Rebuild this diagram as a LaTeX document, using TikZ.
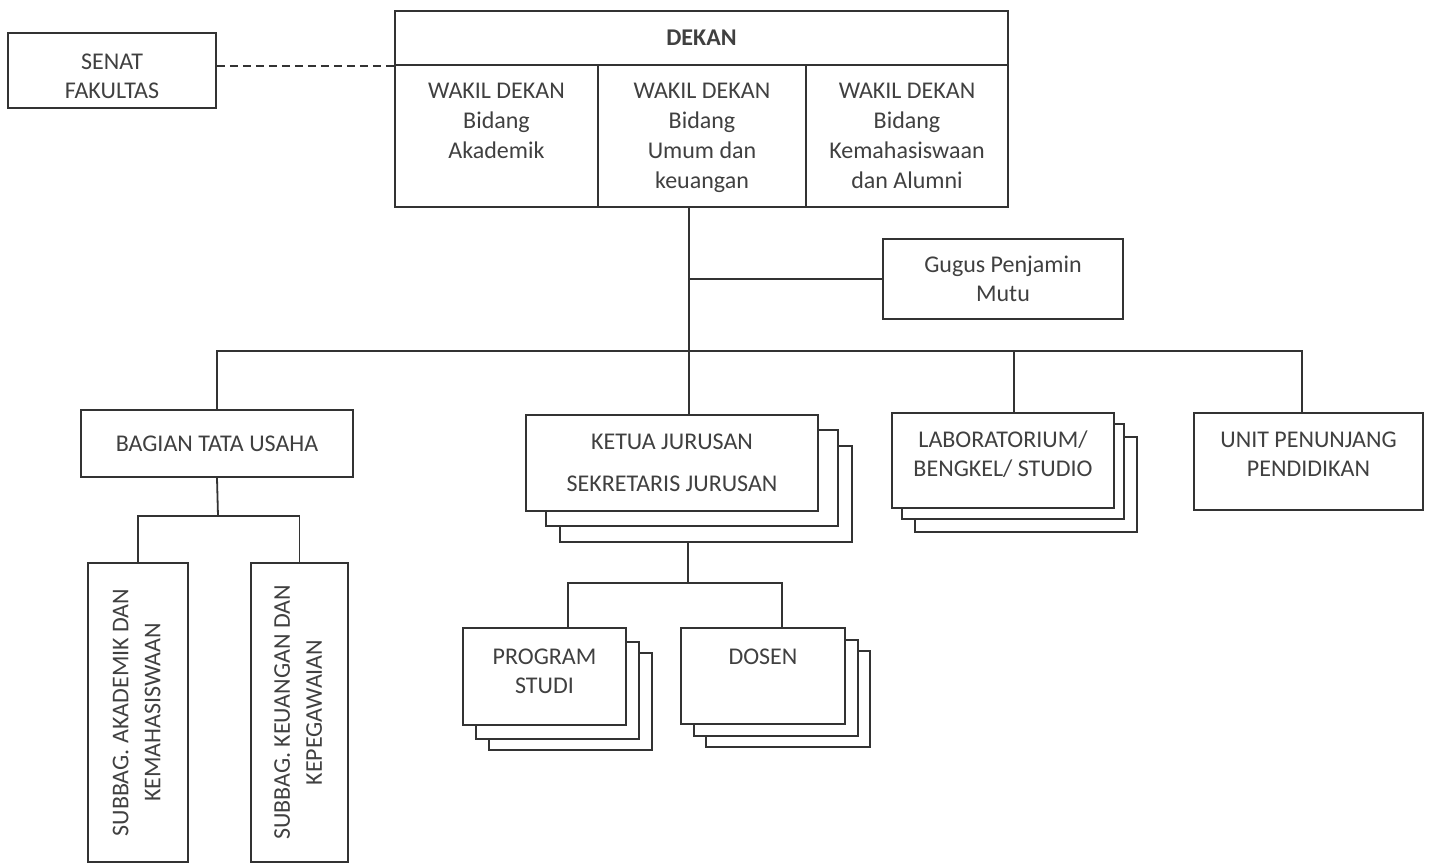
\documentclass[tikz,border=0pt]{standalone}
\usepackage{fontspec}
\setmainfont{Carlito}
\usetikzlibrary{positioning,calc}
\renewcommand{\arraystretch}{1.1}
\definecolor{strokecol}{rgb}{0.2,0.2,0.2}
\definecolor{textcol}{rgb}{0.25,0.25,0.25}
\tikzset{
  orgbox/.style={draw=strokecol, fill=white, line width=0.9pt, align=center,
    inner sep=2pt, text=textcol},
  boxsize/.style 2 args={minimum width=#1, minimum height=#2},
  wdtext/.style={anchor=north, inner sep=0pt, align=center, text=textcol, yshift=-9.5pt},
  link/.style={draw=strokecol, line width=0.9pt},
  dashlink/.style={link, dash pattern=on 4pt off 2.5pt}
}

\begin{document}
\begin{tikzpicture}[x=0.5pt, y=-0.5pt, line join=miter,
    node font=\fontsize{12}{14.5}\selectfont]
  \useasboundingbox (0,0) rectangle (1431,864);
  % Node: senat
  \node[orgbox, boxsize={104pt}{37.5pt}] (senat) at (112,70.5) {\mbox{}\\[-0.8pt]SENAT\\FAKULTAS};
  % Node: dekan
  \node[orgbox, boxsize={306.5pt}{27pt}, font=\bfseries] (dekan) at (701.5,38) {DEKAN};
  \node[orgbox, boxsize={101.5pt}{71pt}] (wdA) at (496.5,136) {};
  \node[orgbox, boxsize={104pt}{71pt}] (wdB) at (702,136) {};
  \node[orgbox, boxsize={101pt}{71pt}] (wdC) at (907,136) {};
  \begin{scope}[node font=\fontsize{12}{15}\selectfont]
    \node[wdtext] (wdAt) at (wdA.north) {WAKIL DEKAN\\Bidang\\Akademik};
    \node[wdtext] (wdBt) at (wdB.north) {WAKIL DEKAN\\Bidang\\Umum dan\\keuangan};
    \node[wdtext] (wdCt) at (wdC.north) {WAKIL DEKAN\\Bidang\\Kemahasiswaan\\dan Alumni};
  \end{scope}
  % Node: gugus
  \node[orgbox, boxsize={120pt}{40pt}] (gugus) at (1003,279) {Gugus Penjamin\\Mutu};
  % Node: bagian
  \node[orgbox, boxsize={136pt}{33.5pt}] (bagian) at (217,443.5) {BAGIAN TATA USAHA};
  \node[orgbox, boxsize={50pt}{149.5pt}] (sbA) at (138,712.5)
    {\rotatebox{90}{\begin{tabular}{@{}c@{}}SUBBAG. AKADEMIK DAN\\KEMAHASISWAAN\end{tabular}}};
  \node[orgbox, boxsize={48.5pt}{149.5pt}] (sbB) at (299.5,712.5)
    {\rotatebox{90}{\begin{tabular}{@{}c@{}}SUBBAG. KEUANGAN DAN\\KEPEGAWAIAN\end{tabular}}};
  % Node: ketua (stack)
  \node[orgbox, boxsize={146pt}{48pt}] (ketua3) at (706,494) {};
  \node[orgbox, boxsize={146pt}{48pt}] (ketua2) at (692,478) {};
  \node[orgbox, boxsize={146pt}{48pt}] (ketua) at (672,463)
    {KETUA JURUSAN\\[6.5pt]SEKRETARIS JURUSAN};
  % Node: prodi (stack)
  \node[orgbox, boxsize={81.5pt}{48.5pt}] (prodi3) at (570.5,701.5) {};
  \node[orgbox, boxsize={81.5pt}{48.5pt}] (prodi2) at (557.5,690.5) {};
  \node[orgbox, boxsize={81.5pt}{48.5pt}] (prodi) at (544.5,676.5) {PROGRAM\\STUDI\\[-9pt]\mbox{}};
  % Node: dosen (stack)
  \node[orgbox, boxsize={82pt}{48pt}] (dosen3) at (788,699) {};
  \node[orgbox, boxsize={82pt}{48pt}] (dosen2) at (776,688) {};
  \node[orgbox, boxsize={82pt}{48pt}] (dosen) at (763,676) {DOSEN\\[5pt]\mbox{}};
  % Node: lab (stack)
  \node[orgbox, boxsize={111pt}{47.5pt}] (lab3) at (1026,484.5) {};
  \node[orgbox, boxsize={111pt}{47.5pt}] (lab2) at (1013,471.5) {};
  \node[orgbox, boxsize={111pt}{47.5pt}] (lab) at (1003,460.5)
    {LABORATORIUM/\\BENGKEL/ STUDIO\\[-7.5pt]\mbox{}};
  % Node: unit
  \node[orgbox, boxsize={114.5pt}{48.5pt}] (unit) at (1308.5,461.5)
    {UNIT PENUNJANG\\PENDIDIKAN\\[-7.5pt]\mbox{}};
  % taps on the lines
  \coordinate (bus) at (689,351);
  \coordinate (busR) at (1302,351);
  \coordinate (labtap) at (1014,351);
  \coordinate (tuBus) at (218,516);
  \coordinate (jBus) at (688,583);
  \coordinate (jL) at (568,583);
  \coordinate (jR) at (782,583);
  % Edge: senat -> dekan
  \draw[dashlink] (dekan.south west -| senat.east) -- (dekan.south west);
  % Edge: dekan -> ketua
  \draw[link] (bus |- wdB.south) -- (bus |- ketua.north);
  % Edge: dekan -> gugus
  \draw[link] (gugus.west) -- (gugus.west -| bus);
  % Edge: bus -> bagian, unit
  \draw[link] (bagian.north) |- (busR) -- (busR |- unit.north);
  % Edge: bus -> lab
  \draw[link] (labtap) -- (labtap |- lab.north);
  % Edge: bagian -> subbag
  \draw[link] (bagian.south) -- (tuBus);
  \draw[link] (sbA.north) |- (tuBus) -| (sbB.north);
  % Edge: ketua -> prodi, dosen
  \draw[link] (jBus |- ketua3.south) -- (jBus);
  \draw[link] (jL |- prodi.north) -- (jL) -- (jR) -- (jR |- dosen.north);
\end{tikzpicture}
\end{document}
